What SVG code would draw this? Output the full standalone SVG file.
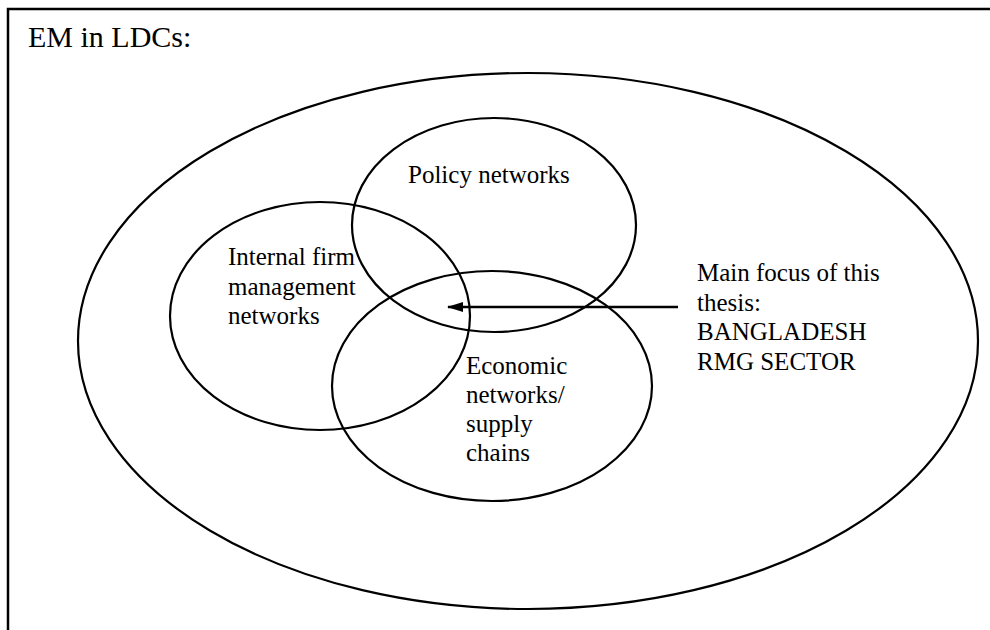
<svg xmlns="http://www.w3.org/2000/svg" width="990" height="630" viewBox="0 0 990 630">
  <style>
    .ring { fill: none; stroke: #000; stroke-width: 2.2; }
    .label { font-family: "Liberation Serif", "Times New Roman", serif; font-size: 25px; fill: #000; }
    .title { font-family: "Liberation Serif", "Times New Roman", serif; font-size: 30px; fill: #000; }
    .link { stroke: #000; stroke-width: 2.7; fill: none; }
  </style>
  <defs>
    <marker id="head" markerWidth="16" markerHeight="10" refX="15" refY="5" orient="auto" markerUnits="userSpaceOnUse">
      <path d="M0,0 L16,5 L0,10 Z" fill="#000"/>
    </marker>
  </defs>
  <rect width="990" height="630" fill="#fff"/>

  <!-- frame (open to the right and bottom) -->
  <g id="frame">
    <rect x="8" y="9" width="1000" height="640" fill="none" stroke="#000" stroke-width="2.5"/>
    <text class="title" x="28" y="47">EM in LDCs:</text>
  </g>

  <g id="ldc-context">
    <ellipse class="ring" cx="528" cy="341" rx="450" ry="268"/>
  </g>

  <g id="policy-networks">
    <ellipse class="ring" cx="494" cy="225" rx="142" ry="107"/>
    <text class="label" x="408" y="183">Policy networks</text>
  </g>

  <g id="internal-firm-networks">
    <ellipse class="ring" cx="320" cy="316" rx="150" ry="114"/>
    <text class="label" x="228" y="265">Internal firm</text>
    <text class="label" x="228" y="294.5">management</text>
    <text class="label" x="228" y="324">networks</text>
  </g>

  <g id="economic-networks">
    <ellipse class="ring" cx="492" cy="386" rx="160" ry="115"/>
    <text class="label" x="466" y="374">Economic</text>
    <text class="label" x="466" y="403">networks/</text>
    <text class="label" x="466" y="432">supply</text>
    <text class="label" x="466" y="461">chains</text>
  </g>

  <g id="thesis-focus">
    <text class="label" x="697" y="281">Main focus of this</text>
    <text class="label" x="697" y="310.5">thesis:</text>
    <text class="label" x="697" y="340">BANGLADESH</text>
    <text class="label" x="697" y="369.5">RMG SECTOR</text>
  </g>

  <g id="connectors">
    <line class="link" x1="678" y1="307" x2="448" y2="307" marker-end="url(#head)"/>
  </g>
</svg>
